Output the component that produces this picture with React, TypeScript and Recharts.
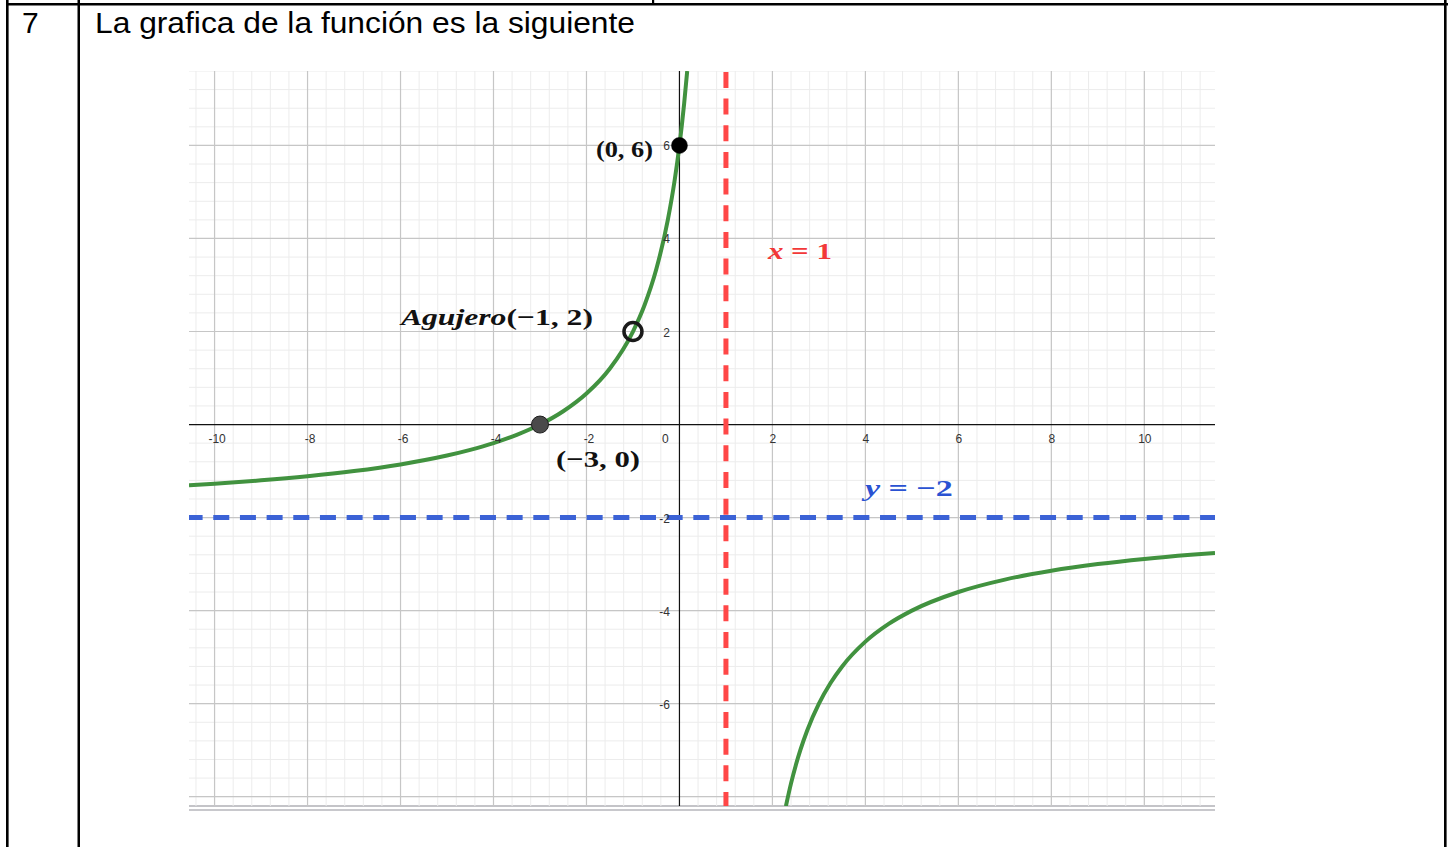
import React from 'react';
import { LineChart, Line, XAxis, YAxis, ReferenceLine, ReferenceDot } from 'recharts';

// Visible window of the graphics view (math units)
const X_DOMAIN: [number, number] = [-10.55, 11.52];
const Y_DOMAIN: [number, number] = [-8.2, 7.6];

// Axis tick labels
const xTickValues = [-10, -8, -6, -4, -2, 2, 4, 6, 8, 10];
const yTickValues = [-6, -4, -2, 2, 4, 6];

// Major grid every 2 units, minor grid every 0.4 units
const majorX = [-10, -8, -6, -4, -2, 2, 4, 6, 8, 10];
const majorY = [-8, -6, -4, -2, 2, 4, 6];
const MINOR_STEP = 0.4;

// Branch left of the vertical asymptote (passes through the hole at (-1, 2))
const leftBranch = [
  { x: -10.55, y: -1.307 },
  { x: -10, y: -1.273 },
  { x: -9, y: -1.2 },
  { x: -8, y: -1.111 },
  { x: -7, y: -1.0 },
  { x: -6, y: -0.857 },
  { x: -5, y: -0.667 },
  { x: -4.5, y: -0.545 },
  { x: -4, y: -0.4 },
  { x: -3.5, y: -0.222 },
  { x: -3, y: 0 },
  { x: -2.5, y: 0.286 },
  { x: -2, y: 0.667 },
  { x: -1.5, y: 1.2 },
  { x: -1, y: 2 },
  { x: -0.75, y: 2.571 },
  { x: -0.5, y: 3.333 },
  { x: -0.25, y: 4.4 },
  { x: -0.1, y: 5.273 },
  { x: 0, y: 6 },
  { x: 0.05, y: 6.421 },
  { x: 0.1, y: 6.889 },
  { x: 0.1667, y: 7.6 },
];

// Branch right of the vertical asymptote
const rightBranch = [
  { x: 2.29, y: -8.202 },
  { x: 2.4, y: -7.714 },
  { x: 2.5, y: -7.333 },
  { x: 2.6, y: -7.0 },
  { x: 2.75, y: -6.571 },
  { x: 3, y: -6.0 },
  { x: 3.25, y: -5.556 },
  { x: 3.5, y: -5.2 },
  { x: 4, y: -4.667 },
  { x: 4.5, y: -4.286 },
  { x: 5, y: -4.0 },
  { x: 6, y: -3.6 },
  { x: 7, y: -3.333 },
  { x: 8, y: -3.143 },
  { x: 9, y: -3.0 },
  { x: 10, y: -2.889 },
  { x: 11, y: -2.8 },
  { x: 11.52, y: -2.76 },
];

// Marked points and asymptotes
const yIntercept = { x: 0, y: 6 };
const xIntercept = { x: -3, y: 0 };
const hole = { x: -1, y: 2 };
const verticalAsymptote = 1;
const horizontalAsymptote = -2;

const minorValues = (lo: number, hi: number) => {
  const out: number[] = [];
  for (let k = Math.ceil(lo / MINOR_STEP); k * MINOR_STEP <= hi + 1e-9; k++) {
    out.push(Math.round(k * MINOR_STEP * 100) / 100);
  }
  return out;
};
const minorX = minorValues(X_DOMAIN[0], X_DOMAIN[1]);
const minorY = minorValues(Y_DOMAIN[0], Y_DOMAIN[1]);

const SANS = "'Liberation Sans', Arial, sans-serif";
const SERIF = "'Liberation Serif', 'Times New Roman', serif";

const tickText = (label: string, dx: number, dy: number, anchor: 'start' | 'middle' | 'end') =>
  (p: any) => (
    <text x={p.cx + dx} y={p.cy + dy} textAnchor={anchor} fontFamily={SANS} fontSize={12} fill="#333">
      {label}
    </text>
  );

const mathText = (
  parts: { t: string; italic?: boolean }[],
  dx: number,
  dy: number,
  width: number,
  color: string,
) => (p: any) => (
  <text
    x={p.cx + dx}
    y={p.cy + dy}
    fontFamily={SERIF}
    fontWeight="bold"
    fontSize={24}
    fill={color}
    textLength={width}
    lengthAdjust="spacingAndGlyphs"
  >
    {parts.map((s, i) => (
      <tspan key={i} fontStyle={s.italic ? 'italic' : 'normal'}>
        {s.t}
      </tspan>
    ))}
  </text>
);

const GREEN = '#41923f';
const RED = '#ff4747';
const BLUE = '#3b62d6';

function Graph() {
  return (
    <LineChart width={1026} height={735} margin={{ top: 0, right: 0, bottom: 0, left: 0 }}>
      <XAxis type="number" dataKey="x" domain={X_DOMAIN} allowDataOverflow hide />
      <YAxis type="number" dataKey="y" domain={Y_DOMAIN} allowDataOverflow hide />

      {minorX.map((v) => (
        <ReferenceLine key={`mx${v}`} x={v} stroke="#ececec" strokeWidth={1} />
      ))}
      {minorY.map((v) => (
        <ReferenceLine key={`my${v}`} y={v} stroke="#ececec" strokeWidth={1} />
      ))}
      {majorX.map((v) => (
        <ReferenceLine key={`Mx${v}`} x={v} stroke="#c6c6c6" strokeWidth={1.2} />
      ))}
      {majorY.map((v) => (
        <ReferenceLine key={`My${v}`} y={v} stroke="#c6c6c6" strokeWidth={1.2} />
      ))}
      <ReferenceLine x={0} stroke="#111" strokeWidth={1.2} />
      <ReferenceLine y={0} stroke="#111" strokeWidth={1.2} />

      {xTickValues.map((v) => (
        <ReferenceDot
          key={`tx${v}`}
          x={v}
          y={0}
          r={0}
          shape={tickText(String(v), v < 0 ? 2.5 : 0.5, 18.5, 'middle')}
        />
      ))}
      <ReferenceDot x={0} y={0} r={0} shape={tickText('0', -14, 18.5, 'middle')} />
      {yTickValues.map((v) => (
        <ReferenceDot key={`ty${v}`} x={0} y={v} r={0} shape={tickText(String(v), -9.5, 5, 'end')} />
      ))}

      <Line
        data={leftBranch}
        dataKey="y"
        type="monotone"
        stroke={GREEN}
        strokeWidth={4}
        dot={false}
        isAnimationActive={false}
      />
      <Line
        data={rightBranch}
        dataKey="y"
        type="monotone"
        stroke={GREEN}
        strokeWidth={4}
        dot={false}
        isAnimationActive={false}
      />

      <ReferenceLine
        x={verticalAsymptote}
        stroke={RED}
        strokeWidth={5}
        strokeDasharray="16 10.67"
        strokeDashoffset={2}
      />
      <ReferenceLine
        y={horizontalAsymptote}
        stroke={BLUE}
        strokeWidth={5}
        strokeDasharray="16 10.67"
        strokeDashoffset={2.4}
      />

      <ReferenceDot x={yIntercept.x} y={yIntercept.y} r={8} fill="#000" stroke="#000" strokeWidth={0.5} />
      <ReferenceDot x={xIntercept.x} y={xIntercept.y} r={8.5} fill="#4a4a4a" stroke="#1e1e1e" strokeWidth={1} />
      <ReferenceDot x={hole.x} y={hole.y} r={9} fill="none" stroke="#1a1a1a" strokeWidth={3.5} />

      <ReferenceDot
        x={yIntercept.x}
        y={yIntercept.y}
        r={0}
        shape={mathText([{ t: '(0, 6)' }], -83.5, 11.5, 57, '#111')}
      />
      <ReferenceDot
        x={hole.x}
        y={hole.y}
        r={0}
        shape={mathText([{ t: 'Agujero', italic: true }, { t: '(−1, 2)' }], -232, -6.5, 192, '#111')}
      />
      <ReferenceDot
        x={xIntercept.x}
        y={xIntercept.y}
        r={0}
        shape={mathText([{ t: '(−3, 0)' }], 16, 42.5, 84, '#111')}
      />
      <ReferenceDot
        x={verticalAsymptote}
        y={4}
        r={0}
        shape={mathText([{ t: 'x', italic: true }, { t: ' = 1' }], 42, 20.5, 64, '#f23838')}
      />
      <ReferenceDot
        x={4}
        y={horizontalAsymptote}
        r={0}
        shape={mathText([{ t: 'y', italic: true }, { t: ' = −2' }], -0.5, -21.5, 88, '#2a52d2')}
      />
    </LineChart>
  );
}

export default function App() {
  return (
    <div
      style={{
        position: 'absolute',
        left: 0,
        top: 0,
        width: 1448,
        height: 847,
        background: '#fff',
        overflow: 'hidden',
      }}
    >
      <svg width={1448} height={847} style={{ position: 'absolute', left: 0, top: 0 }}>
        {/* table frame */}
        <rect x={6} y={3} width={1442} height={2.5} fill="#000" />
        <rect x={6} y={0} width={2.6} height={847} fill="#000" />
        <rect x={77.5} y={0} width={2.5} height={847} fill="#000" />
        <rect x={1444} y={0} width={2.6} height={847} fill="#000" />
        <rect x={652} y={0} width={2.2} height={4} fill="#000" />
        {/* row text */}
        <text x={22} y={33} fontFamily={SANS} fontSize={30} fill="#000">
          7
        </text>
        <text
          x={95}
          y={33}
          fontFamily={SANS}
          fontSize={30}
          fill="#000"
          textLength={540}
          lengthAdjust="spacingAndGlyphs"
        >
          La grafica de la función es la siguiente
        </text>
        {/* bottom edge of the graphics view */}
        <rect x={189} y={805} width={1026} height={2} fill="#c4c4c8" />
        <rect x={189} y={809} width={1026} height={2} fill="#c8c8cc" />
      </svg>
      <div style={{ position: 'absolute', left: 189, top: 71 }}>
        <Graph />
      </div>
    </div>
  );
}
